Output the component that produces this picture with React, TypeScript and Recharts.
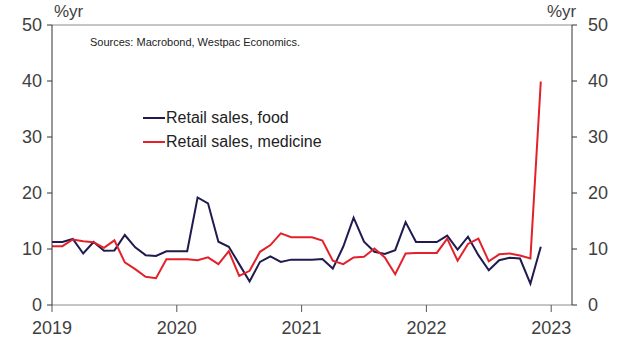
import React from "react";
import { LineChart, Line, XAxis, YAxis, Legend, ReferenceLine } from "recharts";

// monthly, Jan 2019 .. Dec 2022
const years = [2019, 2020, 2021, 2022, 2023];
const yTicks = [0, 10, 20, 30, 40, 50];

const food = [
  11.25, 11.25, 11.8, 9.2, 11.25, 9.7, 9.75, 12.5, 10.3, 8.9, 8.75, 9.6,
  9.6, 9.6, 19.2, 18.15, 11.3, 10.4, 7.3, 4.2, 7.7, 8.7, 7.7, 8.1,
  8.1, 8.1, 8.2, 6.5, 10.4, 15.6, 11.3, 9.5, 9.1, 9.8, 14.8, 11.25,
  11.25, 11.25, 12.4, 9.9, 12.2, 8.9, 6.2, 8.0, 8.45, 8.3, 3.8, 10.4,
];

const medicine = [
  10.5, 10.5, 11.7, 11.4, 11.2, 10.2, 11.55, 7.6, 6.4, 5.05, 4.8, 8.15,
  8.15, 8.15, 8.0, 8.5, 7.3, 9.6, 5.2, 6.1, 9.5, 10.7, 12.8, 12.1,
  12.1, 12.1, 11.5, 7.9, 7.3, 8.5, 8.6, 10.1, 8.5, 5.5, 9.2, 9.3,
  9.3, 9.3, 11.85, 7.9, 10.9, 11.85, 7.8, 9.05, 9.2, 8.85, 8.3, 39.9,
];

const NAVY = "#1f1b4f";
const RED = "#e3212a";
const FONT = "'Liberation Sans', Arial, sans-serif";
const TEXT = "#404040";

const data = food.map((v, i) => ({ m: i, food: v, medicine: medicine[i] }));
const xTicks = years.map((y) => (y - years[0]) * 12);

const renderLegend = (props) => {
  const { payload } = props;
  return (
    <div style={{ fontFamily: FONT, fontSize: 16, color: "#222" }}>
      {payload.map((p) => (
        <div key={p.value} style={{ display: "flex", alignItems: "center", height: 24 }}>
          <span style={{ display: "inline-block", width: 22, height: 2, background: p.color, marginRight: 1 }} />
          <span>{p.value}</span>
        </div>
      ))}
    </div>
  );
};

export default function App() {
  const tick = { fill: TEXT, fontSize: 18, fontFamily: FONT };
  return (
    <div style={{ position: "absolute", left: 0, top: 0, width: 622, height: 340 }}>
      <LineChart width={622} height={340} data={data} margin={{ top: 25, right: 0, bottom: 0, left: 0 }}>
        <XAxis
          dataKey="m"
          type="number"
          domain={[0, 50]}
          ticks={xTicks}
          tickFormatter={(v) => String(years[0] + v / 12)}
          tick={tick}
          tickSize={7}
          tickMargin={9}
          height={35}
          stroke="#8c8c8c"
          tickLine={{ stroke: "#555" }}
          axisLine={{ stroke: "#8c8c8c" }}
        />
        <YAxis
          yAxisId="left"
          domain={[0, 50]}
          ticks={yTicks}
          tick={tick}
          width={52}
          tickSize={5}
          tickMargin={5}
          stroke="#333"
        />
        <YAxis
          yAxisId="right"
          orientation="right"
          domain={[0, 50]}
          ticks={yTicks}
          tick={{ ...tick, textAnchor: "start" }}
          width={50}
          tickSize={5}
          tickMargin={11}
          stroke="#333"
        />
        <ReferenceLine yAxisId="left" y={50} stroke="#8c8c8c" strokeWidth={1} />
        <Legend
          layout="vertical"
          align="center"
          verticalAlign="middle"
          content={renderLegend}
          wrapperStyle={{ left: 143, top: 106, width: 220 }}
        />
        <Line
          yAxisId="left"
          dataKey="food"
          name="Retail sales, food"
          stroke={NAVY}
          strokeWidth={2}
          dot={false}
          isAnimationActive={false}
        />
        <Line
          yAxisId="right"
          dataKey="medicine"
          name="Retail sales, medicine"
          stroke={RED}
          strokeWidth={2}
          dot={false}
          isAnimationActive={false}
        />
      </LineChart>
      <div style={{ position: "absolute", left: 54, top: 2, fontFamily: FONT, fontSize: 17, color: TEXT }}>%yr</div>
      <div style={{ position: "absolute", left: 547, top: 2, fontFamily: FONT, fontSize: 17, color: TEXT }}>%yr</div>
      <div style={{ position: "absolute", left: 90, top: 36, fontFamily: FONT, fontSize: 11, color: "#222" }}>
        Sources: Macrobond, Westpac Economics.
      </div>
    </div>
  );
}
